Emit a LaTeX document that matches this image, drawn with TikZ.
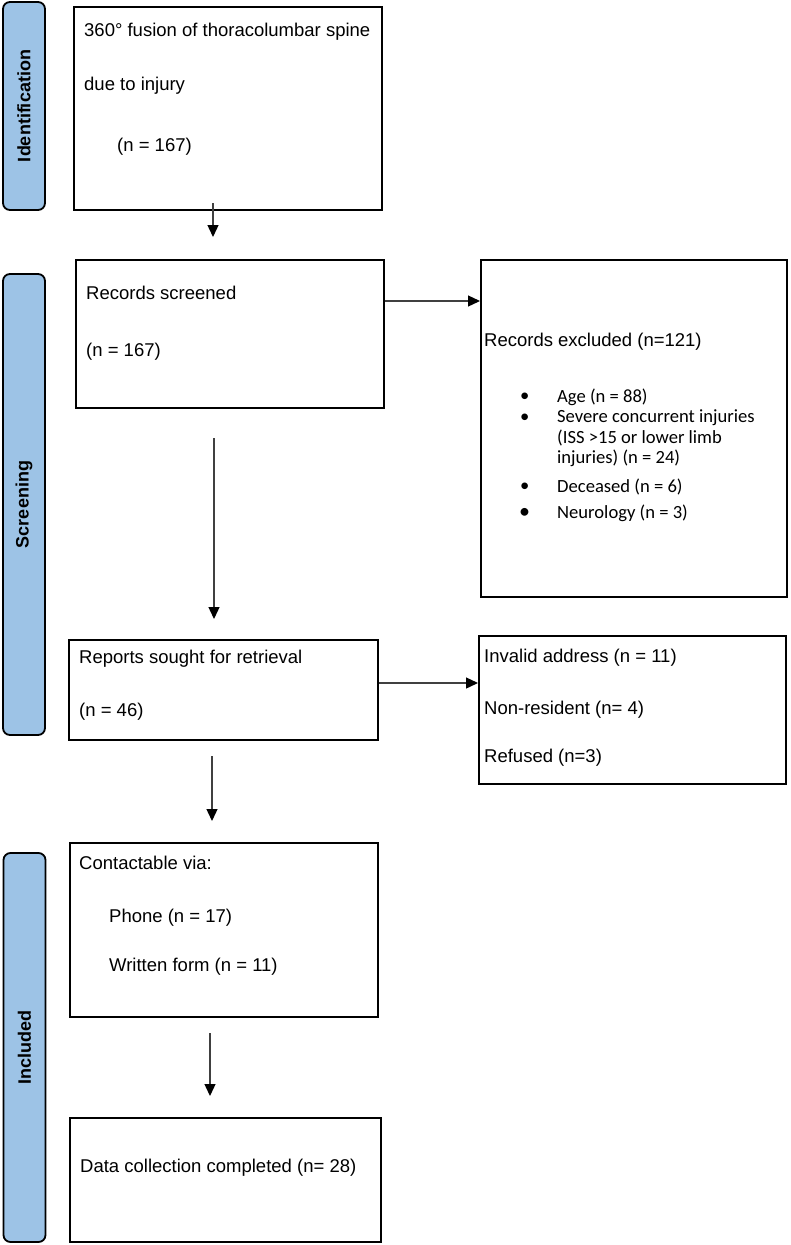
\documentclass[tikz,border=0pt]{standalone}
\usepackage{fontspec}
\setmainfont{Liberation Sans}
\newfontfamily\calfont{Carlito}
\usetikzlibrary{arrows.meta}
\definecolor{sidebl}{RGB}{157,195,230}
\begin{document}
\begin{tikzpicture}[x=1pt,y=-1pt,
  side/.style={draw=black, line width=1.8pt, fill=sidebl, rounded corners=7pt, minimum width=42pt, inner sep=0pt},
  sidetext/.style={rotate=90, inner sep=0pt, font=\bfseries\fontsize{18}{20}\selectfont},
  box/.style={draw=black, line width=2pt, inner sep=0pt},
  txt/.style={anchor=west, inner sep=0pt, font=\fontsize{18.5}{22}\selectfont},
  ctxt/.style={anchor=west, inner sep=0pt, font=\calfont\fontsize{18.6}{22}\selectfont},
  arr/.style={draw=black!75, line width=1.3pt, -{Triangle[length=12pt,width=11pt,color=black]}}]
\useasboundingbox (0,0) rectangle (790,1245);

% side bars
\node[side, minimum height=208pt] (sid) at (24,106) {};
\node[sidetext] (sidl) at (sid.center) {Identification};
\node[side, minimum height=461pt] (sscr) at (24,504.5) {};
\node[sidetext] (sscrl) at (sscr.center) {Screening};
\node[side, minimum height=389pt] (sinc) at (24.5,1047.5) {};
\node[sidetext] (sincl) at (sinc.center) {Included};

% boxes
\node[box, minimum width=308pt, minimum height=203pt] (b1) at (228,108.5) {};
\node[box, minimum width=308pt, minimum height=148pt] (b2) at (230,334) {};
\node[box, minimum width=306pt, minimum height=337pt] (b3) at (634,428.5) {};
\node[box, minimum width=309pt, minimum height=100pt] (b4) at (223.5,690) {};
\node[box, minimum width=307pt, minimum height=148pt] (b5) at (632.5,710) {};
\node[box, minimum width=308pt, minimum height=174pt] (b6) at (224,930) {};
\node[box, minimum width=311pt, minimum height=124pt] (b7) at (225.5,1180) {};

% texts
\node[txt] (t1a) at (84,32) {360° fusion of thoracolumbar spine};
\node[txt] (t1b) at (84,86) {due to injury};
\node[txt] (t1c) at (117,147) {(n = 167)};

\node[txt] (t2a) at (86,293) {Records screened};
\node[txt] (t2b) at (86,352) {(n = 167)};

\node[txt] (t3a) at (484,342) {Records excluded (n=121)};
\node[ctxt] (u1) at (520,397) {•};
\node[ctxt] (t3b) at (557,397) {Age (n = 88)};
\node[ctxt] (u2) at (520,418) {•};
\node[ctxt] (t3c) at (557,418) {Severe concurrent injuries};
\node[ctxt] (t3d) at (557,438) {(ISS >15 or lower limb};
\node[ctxt] (t3e) at (557,458) {injuries) (n = 24)};
\node[ctxt] (u3) at (520,487) {•};
\node[ctxt] (t3f) at (557,487) {Deceased (n = 6)};
\node[ctxt, font=\calfont\fontsize{22}{22}\selectfont] (u4) at (519,513) {•};
\node[ctxt] (t3g) at (557,513) {Neurology (n = 3)};

\node[txt] (t4a) at (79,659) {Reports sought for retrieval};
\node[txt] (t4b) at (79,712) {(n = 46)};

\node[txt] (t5a) at (484,658) {Invalid address (n = 11)};
\node[txt] (t5b) at (484,710) {Non-resident (n= 4)};
\node[txt] (t5c) at (484,758) {Refused (n=3)};

\node[txt] (t6a) at (79,863) {Contactable via:};
\node[txt] (t6b) at (109,918) {Phone (n = 17)};
\node[txt] (t6c) at (109,967) {Written form (n = 11)};

\node[txt] (t7a) at (80,1168) {Data collection completed (n= 28)};

% arrows
\draw[arr] ([xshift=-15pt,yshift=8pt]b1.south) -- ([xshift=-17pt,yshift=22pt]b2.north);
\draw[arr] ([yshift=33pt]b2.east) -- ([yshift=33pt]b2.east -| b3.west);
\draw[arr] ([xshift=-16pt,yshift=-29pt]b2.south) -- ([xshift=-9.5pt,yshift=20pt]b4.north);
\draw[arr] ([yshift=7pt]b4.east) -- ([yshift=7pt]b4.east -| b5.west);
\draw[arr] ([xshift=-11.5pt,yshift=-15pt]b4.south) -- ([xshift=-12pt,yshift=21pt]b6.north);
\draw[arr] ([xshift=-14pt,yshift=-15pt]b6.south) -- ([xshift=-15.5pt,yshift=21pt]b7.north);
\end{tikzpicture}
\end{document}
